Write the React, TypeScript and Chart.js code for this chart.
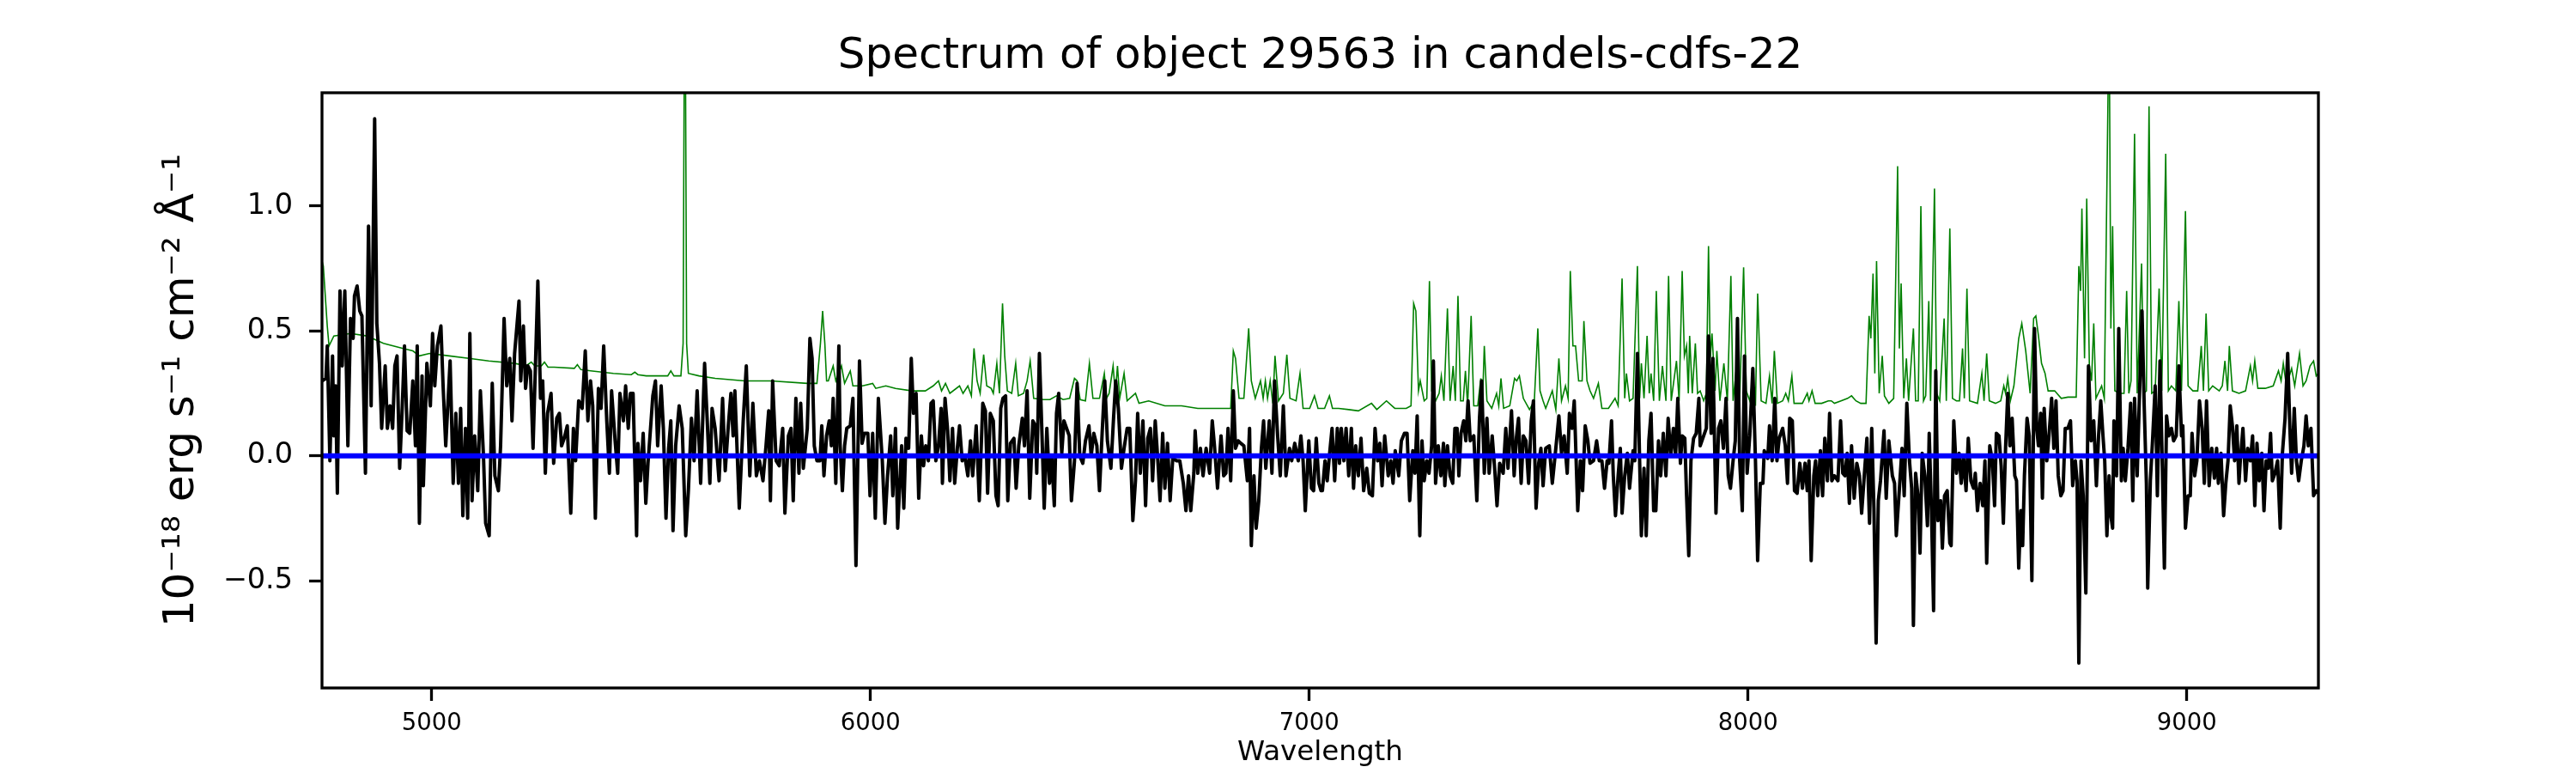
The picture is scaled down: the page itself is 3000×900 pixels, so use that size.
import React, { useEffect, useRef } from "react";
import { Chart, registerables } from "chart.js";

Chart.register(...registerables);

const FONT = "'DejaVu Sans', 'Liberation Sans', sans-serif";

const TITLE = "Spectrum of object 29563 in candels-cdfs-22";
const X_LABEL = "Wavelength";
const Y_LABEL = "10⁻¹⁸ erg s⁻¹ cm⁻² Å⁻¹";

const X_RANGE = [4750, 9300];
const Y_RANGE = [-0.93, 1.454];
const X_TICKS = [5000, 6000, 7000, 8000, 9000];
const Y_TICKS = [-0.5, 0.0, 0.5, 1.0];

// observed flux, [wavelength, flux]
const FLUX: [number, number][] = [
  [4750, 0.30], [4759, 0.31], [4762, 0.44], [4768, -0.02], [4774, 0.40], [4777, 0.08], [4781, 0.28], [4785, -0.15],
  [4791, 0.66], [4796, 0.36], [4802, 0.66], [4809, 0.04], [4815, 0.55], [4821, 0.47], [4824, 0.64], [4830, 0.68],
  [4836, 0.58], [4841, 0.56], [4849, -0.07], [4856, 0.92], [4862, 0.20], [4870, 1.35], [4875, 0.53], [4881, 0.37],
  [4886, 0.11], [4894, 0.36], [4899, 0.11], [4905, 0.20], [4911, 0.11], [4916, 0.36], [4921, 0.40], [4927, -0.05],
  [4933, 0.20], [4938, 0.44], [4944, 0.10], [4950, 0.09], [4957, 0.30], [4963, 0.04], [4967, 0.44], [4972, -0.27],
  [4978, 0.32], [4981, -0.12], [4989, 0.37], [4997, 0.20], [5002, 0.49], [5007, 0.28], [5013, 0.44], [5021, 0.52],
  [5026, 0.28], [5032, 0.04], [5042, 0.38], [5049, -0.11], [5055, 0.17], [5061, -0.11], [5066, 0.19], [5071, -0.24],
  [5077, 0.11], [5082, -0.25], [5087, 0.49], [5092, -0.18], [5098, 0.08], [5105, -0.14], [5111, 0.26], [5118, 0.00],
  [5123, -0.27], [5131, -0.32], [5138, 0.29], [5144, -0.08], [5152, -0.14], [5157, 0.04], [5165, 0.55], [5171, 0.28],
  [5178, 0.39], [5183, 0.14], [5189, 0.41], [5199, 0.62], [5203, 0.30], [5209, 0.52], [5214, 0.27], [5219, 0.36],
  [5225, 0.34], [5231, 0.03], [5242, 0.70], [5248, 0.23], [5253, 0.30], [5259, -0.07], [5264, 0.17], [5272, 0.25],
  [5278, -0.03], [5285, 0.15], [5291, 0.17], [5296, 0.04], [5302, 0.07], [5309, 0.12], [5317, -0.23], [5323, 0.11],
  [5328, -0.02], [5335, 0.22], [5343, 0.19], [5350, 0.42], [5356, 0.14], [5362, 0.30], [5367, 0.20], [5373, -0.25],
  [5380, 0.27], [5386, 0.19], [5392, 0.44], [5399, 0.14], [5405, -0.07], [5410, 0.26], [5418, 0.06], [5424, -0.07],
  [5429, 0.25], [5437, 0.14], [5442, 0.28], [5448, 0.11], [5453, 0.25], [5459, 0.25], [5467, -0.32], [5470, 0.05],
  [5476, -0.10], [5482, 0.09], [5488, -0.19], [5493, -0.03], [5500, 0.14], [5504, 0.24], [5510, 0.30], [5515, 0.04],
  [5523, 0.28], [5528, 0.11], [5534, -0.25], [5540, 0.03], [5545, 0.14], [5550, -0.30], [5556, 0.04], [5564, 0.20],
  [5571, 0.11], [5579, -0.32], [5585, -0.14], [5592, 0.15], [5598, -0.02], [5605, 0.26], [5613, -0.11], [5622, 0.37],
  [5628, 0.14], [5634, -0.11], [5639, 0.19], [5646, 0.11], [5655, -0.10], [5663, 0.23], [5669, -0.06], [5676, 0.12],
  [5682, 0.25], [5687, 0.08], [5691, 0.26], [5701, -0.21], [5710, 0.14], [5717, 0.36], [5725, -0.08], [5732, 0.21],
  [5740, -0.08], [5747, -0.02], [5755, -0.10], [5762, 0.04], [5768, 0.18], [5772, -0.18], [5777, 0.30], [5785, -0.02],
  [5792, -0.04], [5800, 0.11], [5805, -0.23], [5813, 0.08], [5819, 0.11], [5824, -0.18], [5830, 0.23], [5837, -0.07],
  [5841, 0.21], [5847, -0.05], [5856, 0.11], [5862, 0.47], [5867, 0.39], [5872, 0.04], [5878, -0.02],
  [5885, -0.02], [5889, 0.12], [5894, -0.08], [5900, 0.08], [5906, 0.14], [5911, 0.04], [5915, 0.23], [5921, -0.11],
  [5928, 0.44], [5931, 0.04], [5936, -0.14], [5941, 0.04], [5946, 0.11], [5954, 0.12], [5960, 0.23], [5967, -0.44],
  [5975, 0.38], [5981, 0.05], [5986, 0.09], [5994, 0.09], [5999, -0.16], [6005, 0.09], [6011, -0.25], [6018, 0.23],
  [6027, -0.02], [6033, -0.27], [6039, -0.08], [6046, 0.08], [6051, -0.16], [6057, 0.11], [6062, -0.29], [6071, 0.04],
  [6076, -0.21], [6081, 0.07], [6087, 0.03], [6093, 0.39], [6098, 0.17], [6104, 0.25], [6110, -0.17], [6116, 0.08],
  [6121, -0.04], [6126, 0.04], [6132, -0.02], [6138, 0.21], [6143, 0.22], [6149, -0.02], [6155, 0.04], [6161, 0.19],
  [6164, -0.11], [6170, 0.23], [6176, 0.10], [6181, -0.10], [6187, 0.11], [6192, -0.11], [6198, 0.03], [6203, 0.12],
  [6209, -0.02], [6215, 0.00], [6222, -0.08], [6228, 0.06], [6233, -0.08], [6241, 0.12], [6248, -0.18], [6256, 0.21],
  [6262, 0.18], [6267, -0.15], [6273, 0.17], [6280, 0.14], [6286, -0.16], [6291, -0.20], [6297, 0.19], [6302, 0.23],
  [6308, 0.24], [6313, -0.18], [6319, 0.05], [6327, 0.07], [6332, -0.13], [6338, 0.04], [6346, 0.15], [6351, 0.04],
  [6357, 0.26], [6363, -0.17], [6370, 0.14], [6376, 0.12], [6379, -0.07], [6385, 0.41], [6391, 0.08], [6396, -0.21],
  [6402, 0.11], [6408, -0.11], [6413, 0.00], [6419, -0.20], [6424, 0.17], [6429, 0.25], [6436, 0.01], [6441, 0.14],
  [6447, 0.11], [6453, 0.08], [6458, -0.18], [6465, -0.02], [6471, 0.29], [6477, 0.00], [6484, -0.03], [6490, 0.06],
  [6498, 0.12], [6503, 0.00], [6509, 0.09], [6516, 0.04], [6522, -0.14], [6528, 0.09], [6534, 0.30], [6540, 0.06],
  [6548, -0.05], [6554, 0.15], [6559, 0.30], [6565, 0.19], [6572, -0.05], [6578, 0.03], [6585, 0.11], [6591, 0.11],
  [6598, -0.26], [6604, -0.10], [6609, 0.17], [6615, -0.07], [6621, 0.14], [6627, -0.20], [6632, 0.07], [6638, 0.11],
  [6643, -0.10], [6649, 0.14], [6655, -0.02], [6660, -0.18], [6666, 0.09], [6671, -0.13], [6677, 0.05], [6683, -0.18],
  [6689, -0.01], [6698, -0.02], [6705, -0.02], [6713, -0.11], [6719, -0.22], [6725, -0.08], [6730, -0.22], [6737, -0.07],
  [6740, 0.10], [6746, -0.07], [6752, 0.03], [6758, -0.08], [6765, 0.03], [6773, -0.07], [6779, 0.14], [6784, 0.04],
  [6791, -0.13], [6799, 0.08], [6805, -0.08], [6810, -0.07], [6815, 0.11], [6821, -0.10], [6827, 0.26], [6832, 0.03],
  [6838, 0.06], [6844, 0.05], [6851, 0.04], [6859, -0.10], [6864, 0.11], [6868, -0.36], [6874, -0.08], [6879, -0.29],
  [6885, -0.18], [6891, 0.03], [6896, 0.14], [6901, -0.05], [6909, 0.14], [6915, -0.07], [6921, 0.30], [6928, 0.08],
  [6934, -0.08], [6941, 0.20], [6947, -0.08], [6955, 0.03], [6960, -0.02], [6967, 0.05], [6975, -0.02], [6981, 0.08],
  [6986, -0.02], [6991, -0.22], [6999, 0.06], [7005, -0.13], [7010, -0.14], [7016, 0.07], [7022, -0.11], [7027, -0.14],
  [7030, -0.14], [7036, -0.02], [7041, -0.10], [7046, 0.00], [7052, 0.11], [7058, -0.10], [7064, 0.11], [7069, -0.03],
  [7073, 0.11], [7079, -0.02], [7084, 0.11], [7090, -0.08], [7096, 0.11], [7101, -0.13], [7106, 0.04], [7112, -0.08],
  [7118, 0.07], [7124, -0.14], [7131, -0.05], [7137, -0.15], [7144, -0.16], [7150, 0.11], [7156, -0.02], [7161, 0.05],
  [7166, -0.12], [7172, 0.08], [7180, -0.08], [7186, -0.02], [7191, -0.11], [7196, 0.02], [7204, -0.08], [7210, 0.06],
  [7217, 0.09], [7223, 0.09], [7229, -0.18], [7236, 0.02], [7241, -0.07], [7246, 0.16], [7252, -0.32], [7257, 0.06],
  [7262, -0.10], [7268, -0.02], [7273, -0.07], [7279, 0.04], [7283, 0.38], [7288, -0.11], [7294, 0.04], [7300, -0.08],
  [7306, 0.05], [7309, -0.12], [7315, 0.04], [7321, -0.08], [7327, -0.11], [7332, 0.11], [7337, 0.11], [7341, -0.08],
  [7346, 0.09], [7352, 0.14], [7357, 0.06], [7362, 0.22], [7367, 0.06], [7375, 0.08], [7382, -0.18], [7388, 0.15],
  [7393, 0.30], [7399, -0.07], [7405, 0.15], [7410, -0.07], [7417, 0.08], [7423, -0.06], [7428, -0.20], [7434, -0.03],
  [7442, -0.07], [7448, 0.11], [7453, -0.05], [7461, 0.18], [7467, -0.08], [7472, 0.07], [7477, 0.15], [7483, -0.11],
  [7488, 0.08], [7494, 0.06], [7500, -0.11], [7506, 0.14], [7511, 0.22], [7517, -0.21], [7523, -0.03], [7528, 0.03],
  [7533, -0.12], [7539, 0.03], [7547, 0.04], [7554, -0.11], [7562, 0.03], [7569, 0.16], [7575, 0.01], [7581, 0.08],
  [7588, -0.07], [7593, 0.17], [7599, 0.11], [7604, 0.22], [7612, -0.22], [7618, -0.02], [7623, -0.14], [7629, 0.12],
  [7635, 0.06], [7640, -0.03], [7648, -0.02], [7655, 0.06], [7661, -0.02], [7667, -0.02], [7673, -0.13], [7679, -0.02],
  [7683, -0.03], [7689, 0.14], [7693, -0.08], [7698, -0.24], [7704, -0.08], [7709, 0.03], [7713, -0.23], [7719, -0.08],
  [7725, 0.01], [7730, -0.13], [7738, 0.02], [7742, -0.02], [7748, 0.41], [7753, -0.02], [7757, -0.32], [7763, -0.05],
  [7768, -0.32], [7774, 0.06], [7779, 0.17], [7785, -0.22], [7790, -0.22], [7796, 0.06], [7801, -0.08], [7807, 0.09],
  [7813, -0.08], [7818, 0.15], [7824, 0.00], [7830, 0.11], [7835, 0.00], [7840, 0.23], [7846, -0.03], [7850, 0.08],
  [7856, 0.07], [7860, -0.16], [7865, -0.40], [7870, -0.02], [7876, 0.07], [7882, 0.09], [7888, 0.23], [7891, 0.04],
  [7899, 0.08], [7905, 0.11], [7910, 0.48], [7916, 0.09], [7920, 0.39], [7927, -0.23], [7933, 0.11], [7938, 0.14],
  [7944, 0.03], [7950, 0.23], [7955, -0.08], [7960, -0.13], [7966, -0.02], [7971, 0.06], [7976, 0.55], [7981, -0.02],
  [7987, -0.22], [7992, 0.40], [7998, -0.07], [8004, 0.08], [8011, 0.35], [8017, -0.02], [8022, -0.42], [8028, -0.11],
  [8034, -0.11], [8037, 0.02], [8045, -0.01], [8049, 0.12], [8055, -0.02], [8061, 0.23], [8066, -0.02], [8071, 0.07],
  [8079, 0.11], [8085, 0.04], [8090, -0.11], [8095, 0.15], [8101, 0.14], [8106, -0.14], [8112, -0.15], [8118, -0.03],
  [8124, -0.13], [8130, -0.03], [8135, -0.14], [8139, -0.02], [8144, -0.42], [8150, -0.08], [8154, -0.02], [8159, -0.16],
  [8165, 0.02], [8170, -0.16],
  [8175, 0.07], [8181, -0.10], [8186, 0.17], [8191, -0.10], [8197, -0.08], [8205, -0.10], [8211, 0.14], [8216, -0.07],
  [8221, -0.08], [8226, 0.01], [8231, -0.19], [8236, 0.04], [8242, -0.17], [8248, -0.03], [8254, -0.08], [8259, -0.23],
  [8265, -0.08], [8271, 0.07], [8277, -0.27], [8282, 0.11], [8287, -0.21], [8292, -0.75], [8297, -0.18], [8302, -0.10],
  [8310, 0.10], [8315, -0.17], [8321, 0.06], [8329, -0.08], [8334, -0.11], [8338, -0.32], [8344, -0.16], [8351, 0.03],
  [8356, -0.16], [8362, 0.21], [8368, -0.02], [8373, -0.13], [8377, -0.68], [8382, -0.07], [8388, -0.17], [8392, -0.39],
  [8397, 0.01], [8403, -0.08], [8409, -0.28], [8413, 0.09], [8418, -0.21], [8423, -0.62], [8428, 0.34], [8433, -0.26],
  [8439, -0.18], [8443, -0.37], [8448, -0.16], [8454, -0.14], [8460, -0.35], [8463, -0.36], [8469, 0.14], [8475, -0.07],
  [8481, 0.01], [8486, -0.11], [8491, 0.00], [8497, -0.14], [8502, 0.07], [8508, -0.10], [8514, -0.13], [8518, -0.07],
  [8523, -0.22], [8529, -0.11], [8535, -0.20], [8540, -0.02], [8544, -0.43], [8551, 0.04], [8557, -0.02], [8562, -0.20],
  [8566, 0.09], [8572, 0.08], [8577, -0.04], [8582, -0.27], [8587, 0.03], [8592, 0.25], [8597, 0.04], [8602, 0.15],
  [8608, -0.08], [8612, -0.10], [8617, -0.45], [8622, -0.22], [8626, -0.36], [8630, -0.08], [8636, 0.15], [8641, 0.08],
  [8647, -0.50], [8653, 0.51], [8658, 0.11], [8662, 0.04], [8667, 0.17], [8671, -0.17], [8675, 0.19], [8681, -0.02],
  [8686, 0.08], [8692, 0.23], [8697, 0.03], [8702, 0.22], [8707, -0.08], [8713, -0.16], [8718, -0.14], [8723, 0.11],
  [8729, 0.11], [8735, 0.14], [8740, -0.12], [8746, -0.02], [8750, -0.10], [8754, -0.83], [8759, -0.02], [8764, -0.16],
  [8770, -0.55], [8776, 0.36], [8782, 0.06], [8788, 0.14], [8794, -0.12], [8799, 0.08], [8804, 0.22], [8809, 0.08],
  [8813, -0.02], [8818, -0.32], [8823, -0.08], [8827, -0.24], [8831, -0.29], [8834, 0.14], [8840, -0.08], [8845, 0.51],
  [8851, -0.10], [8855, 0.03], [8860, -0.10], [8866, 0.03], [8872, 0.21], [8877, -0.18], [8881, 0.23], [8887, -0.08],
  [8892, 0.23], [8898, 0.58], [8903, 0.20], [8908, -0.11], [8911, -0.53], [8917, -0.10], [8922, 0.06], [8928, 0.28],
  [8933, -0.16], [8939, 0.38], [8944, -0.02], [8949, -0.45], [8954, 0.16], [8959, 0.08], [8965, 0.11], [8970, 0.06],
  [8976, 0.08], [8982, 0.36], [8988, 0.08], [8991, 0.12], [8997, -0.29], [9003, -0.16], [9008, -0.16], [9012, 0.09],
  [9018, -0.08], [9023, -0.02], [9029, 0.22], [9035, 0.11], [9040, -0.11], [9045, 0.22], [9051, -0.12], [9057, 0.03],
  [9063, -0.09], [9068, 0.03], [9072, -0.11], [9078, 0.01], [9084, -0.24], [9089, -0.11], [9094, -0.02], [9099, 0.20],
  [9104, 0.12], [9109, -0.02], [9114, 0.12], [9119, -0.11], [9122, -0.02], [9128, 0.11], [9134, -0.10], [9139, 0.03],
  [9145, -0.02], [9150, 0.08], [9155, -0.20], [9160, 0.05], [9165, -0.10], [9171, 0.01], [9176, -0.22], [9181, -0.02],
  [9186, -0.05], [9191, 0.09], [9195, -0.10], [9201, -0.07], [9207, -0.02], [9213, -0.29], [9218, 0.01], [9224, 0.15],
  [9230, 0.41], [9235, 0.11], [9239, -0.07], [9245, 0.19], [9250, -0.02], [9255, -0.10], [9261, -0.02], [9267, 0.04],
  [9272, 0.16], [9277, 0.04], [9283, 0.11], [9289, -0.16], [9295, -0.14], [9300, -0.15],
];

// noise / sky spectrum, [wavelength, sigma]
const SIGMA: [number, number][] = [
  [4750, 0.78], [4753, 0.76], [4762, 0.52], [4766, 0.44], [4777, 0.48], [4815, 0.49], [4852, 0.48], [4890, 0.45],
  [4935, 0.43], [4957, 0.42], [4972, 0.40], [4995, 0.41], [5040, 0.40], [5085, 0.39], [5130, 0.38], [5190, 0.37],
  [5215, 0.36], [5227, 0.375], [5235, 0.36], [5250, 0.36], [5257, 0.375], [5265, 0.355], [5279, 0.355], [5325, 0.35],
  [5332, 0.365], [5340, 0.345], [5362, 0.34], [5414, 0.33], [5455, 0.325], [5463, 0.335], [5470, 0.325], [5489, 0.32],
  [5538, 0.32], [5545, 0.34], [5552, 0.32], [5568, 0.32], [5573, 0.45], [5577, 2.2], [5581, 0.45], [5585, 0.33],
  [5609, 0.32], [5646, 0.31], [5714, 0.30], [5774, 0.30], [5856, 0.29], [5878, 0.29], [5886, 0.45], [5891, 0.58],
  [5896, 0.45], [5900, 0.30], [5904, 0.30], [5915, 0.36], [5921, 0.30], [5934, 0.36], [5941, 0.29], [5954, 0.34],
  [5960, 0.28], [5982, 0.28], [6005, 0.29], [6012, 0.27], [6035, 0.28], [6057, 0.27], [6095, 0.26], [6125, 0.26],
  [6143, 0.28], [6155, 0.30], [6162, 0.26], [6171, 0.29], [6181, 0.25], [6203, 0.28], [6211, 0.25], [6222, 0.28],
  [6230, 0.24], [6236, 0.43], [6243, 0.30], [6250, 0.25], [6258, 0.405], [6265, 0.28], [6275, 0.27], [6280, 0.25],
  [6288, 0.37], [6294, 0.25], [6301, 0.61], [6306, 0.40], [6312, 0.26], [6322, 0.25], [6331, 0.37], [6337, 0.24],
  [6349, 0.25], [6357, 0.30], [6364, 0.38], [6372, 0.23], [6394, 0.225], [6409, 0.225], [6424, 0.24], [6439, 0.225],
  [6454, 0.23], [6465, 0.31], [6471, 0.30], [6478, 0.225], [6490, 0.22], [6499, 0.37], [6507, 0.23], [6522, 0.23],
  [6533, 0.33], [6538, 0.23], [6544, 0.25], [6553, 0.36], [6558, 0.25], [6563, 0.36], [6568, 0.23], [6578, 0.33],
  [6585, 0.22], [6604, 0.25], [6612, 0.21], [6634, 0.22], [6671, 0.20], [6709, 0.20], [6746, 0.19], [6784, 0.19],
  [6821, 0.19], [6827, 0.42], [6832, 0.39], [6840, 0.23], [6851, 0.23], [6862, 0.51], [6868, 0.30], [6877, 0.23],
  [6889, 0.30], [6895, 0.23], [6900, 0.30], [6905, 0.23], [6911, 0.30], [6917, 0.21], [6922, 0.40], [6930, 0.22],
  [6941, 0.25], [6949, 0.405], [6956, 0.23], [6970, 0.22], [6979, 0.33], [6986, 0.19], [7001, 0.19], [7012, 0.24],
  [7020, 0.19], [7035, 0.19], [7046, 0.24], [7053, 0.19], [7067, 0.19], [7090, 0.185], [7112, 0.18], [7142, 0.21],
  [7154, 0.185], [7176, 0.22], [7195, 0.19], [7221, 0.19], [7232, 0.20], [7238, 0.61], [7243, 0.58], [7249, 0.26],
  [7253, 0.30], [7262, 0.22], [7268, 0.23], [7274, 0.70], [7279, 0.26], [7288, 0.22], [7296, 0.25], [7301, 0.32],
  [7307, 0.22], [7315, 0.59], [7321, 0.22], [7328, 0.36], [7333, 0.22], [7339, 0.64], [7345, 0.22], [7351, 0.22],
  [7356, 0.34], [7361, 0.20], [7369, 0.56], [7375, 0.20], [7384, 0.20], [7391, 0.31], [7395, 0.22], [7399, 0.44],
  [7405, 0.22], [7416, 0.19], [7427, 0.25], [7432, 0.20], [7437, 0.31], [7443, 0.19], [7457, 0.20], [7468, 0.31],
  [7473, 0.30], [7479, 0.32], [7488, 0.23], [7502, 0.185], [7513, 0.22], [7521, 0.51], [7526, 0.26], [7533, 0.22],
  [7539, 0.19], [7554, 0.26], [7562, 0.185], [7569, 0.39], [7575, 0.22], [7584, 0.28], [7590, 0.23], [7595, 0.74],
  [7601, 0.44], [7607, 0.44], [7614, 0.30], [7622, 0.30], [7626, 0.54], [7633, 0.30], [7640, 0.26], [7648, 0.23],
  [7659, 0.29], [7667, 0.19], [7682, 0.19], [7697, 0.23], [7704, 0.20], [7713, 0.71], [7719, 0.23], [7723, 0.33],
  [7730, 0.22], [7738, 0.23], [7748, 0.76], [7753, 0.23], [7757, 0.37], [7763, 0.23], [7770, 0.48], [7775, 0.25],
  [7779, 0.33], [7785, 0.22], [7791, 0.66], [7798, 0.22], [7805, 0.36], [7813, 0.22], [7819, 0.72], [7825, 0.22],
  [7837, 0.38], [7843, 0.22], [7850, 0.74], [7855, 0.40], [7860, 0.44], [7864, 0.25], [7867, 0.48], [7873, 0.25],
  [7880, 0.45], [7885, 0.25], [7891, 0.26], [7899, 0.22], [7905, 0.25], [7910, 0.84], [7914, 0.39], [7918, 0.49],
  [7925, 0.26], [7929, 0.42], [7936, 0.22], [7945, 0.37], [7953, 0.22], [7961, 0.72], [7966, 0.22], [7974, 0.36],
  [7981, 0.22], [7990, 0.755], [7996, 0.26], [8004, 0.22], [8011, 0.31], [8017, 0.20], [8022, 0.65], [8030, 0.22],
  [8041, 0.21], [8049, 0.32], [8055, 0.21], [8060, 0.42], [8067, 0.21], [8079, 0.22], [8086, 0.25], [8092, 0.22],
  [8100, 0.32], [8105, 0.21], [8124, 0.21], [8135, 0.25], [8139, 0.22], [8146, 0.26], [8153, 0.21], [8168, 0.21],
  [8183, 0.22], [8190, 0.22], [8197, 0.21], [8212, 0.22], [8227, 0.23], [8236, 0.24], [8246, 0.22], [8257, 0.21],
  [8269, 0.21], [8276, 0.56], [8280, 0.47], [8285, 0.73], [8289, 0.33], [8293, 0.78], [8299, 0.25], [8306, 0.40],
  [8311, 0.24], [8321, 0.21], [8332, 0.23], [8341, 1.16], [8345, 0.43], [8349, 0.69], [8355, 0.23], [8361, 0.39],
  [8366, 0.22], [8377, 0.51], [8382, 0.22], [8388, 0.22], [8394, 1.00], [8400, 0.22], [8405, 0.24], [8412, 0.62],
  [8416, 0.22], [8425, 1.07], [8430, 0.25], [8437, 0.22], [8447, 0.55], [8452, 0.22], [8460, 0.91], [8466, 0.23],
  [8475, 0.22], [8482, 0.22], [8489, 0.43], [8493, 0.23], [8499, 0.67], [8505, 0.22], [8523, 0.21], [8533, 0.33],
  [8538, 0.22], [8544, 0.41], [8550, 0.22], [8564, 0.21], [8576, 0.22], [8583, 0.28], [8587, 0.25], [8592, 0.31],
  [8598, 0.22], [8606, 0.28], [8617, 0.47], [8624, 0.53], [8633, 0.42], [8643, 0.25], [8651, 0.55], [8656, 0.56],
  [8662, 0.48], [8669, 0.37], [8677, 0.33], [8684, 0.26], [8699, 0.26], [8714, 0.23], [8729, 0.235], [8748, 0.235],
  [8754, 0.76], [8758, 0.66], [8761, 0.99], [8767, 0.39], [8772, 1.03], [8778, 0.36], [8783, 0.30], [8788, 0.53],
  [8793, 0.23], [8806, 0.28], [8812, 0.23], [8823, 1.8], [8827, 0.51], [8831, 0.92], [8836, 0.26], [8848, 0.25],
  [8857, 0.25], [8863, 0.66], [8868, 0.25], [8873, 0.30], [8881, 1.29], [8887, 0.25], [8897, 0.77], [8902, 0.25],
  [8908, 0.26], [8914, 1.40], [8920, 0.25], [8928, 0.26], [8937, 0.67], [8943, 0.26], [8952, 1.21], [8958, 0.26],
  [8965, 0.28], [8975, 0.26], [8982, 0.62], [8988, 0.26], [8997, 0.98], [9003, 0.28], [9014, 0.26], [9025, 0.26],
  [9033, 0.44], [9038, 0.26], [9044, 0.57], [9050, 0.26], [9059, 0.28], [9074, 0.26], [9081, 0.28], [9087, 0.38],
  [9093, 0.26], [9097, 0.44], [9104, 0.26], [9119, 0.25], [9134, 0.26], [9145, 0.36], [9150, 0.30], [9155, 0.38],
  [9162, 0.27], [9179, 0.27], [9197, 0.28], [9209, 0.34], [9215, 0.30], [9220, 0.37], [9227, 0.28], [9239, 0.35],
  [9246, 0.28], [9257, 0.41], [9265, 0.28], [9272, 0.30], [9281, 0.36], [9289, 0.38], [9295, 0.32], [9300, 0.33],
];

// zero level
const ZERO: [number, number][] = [[4750, 0], [9300, 0]];

const toXY = (pts: [number, number][]) => pts.map(([x, y]) => ({ x, y }));

const fmtY = (v: number) => (v < 0 ? "\u2212" : "") + Math.abs(v).toFixed(1);

// matplotlib-like box around the axes
const framePlugin = {
  id: "frame",
  afterDatasetsDraw(chart: any) {
    const { ctx, chartArea } = chart;
    const { left, top, right, bottom } = chartArea;
    ctx.save();
    ctx.strokeStyle = "#000";
    ctx.lineWidth = 3.3;
    ctx.strokeRect(left, top, right - left, bottom - top);
    ctx.restore();
  },
};

const SpectrumChart: React.FC = () => {
  const chartRef = useRef<HTMLCanvasElement | null>(null);
  const chartInstance = useRef<Chart | null>(null);

  useEffect(() => {
    document.body.style.margin = "0";
    if (!chartRef.current) return;
    if (chartInstance.current) chartInstance.current.destroy();

    chartInstance.current = new Chart(chartRef.current, {
      type: "line",
      data: {
        datasets: [
          {
            label: "zero",
            data: toXY(ZERO),
            borderColor: "#0000ff",
            borderWidth: 6,
            pointRadius: 0,
          },
          {
            label: "flux",
            data: toXY(FLUX),
            borderColor: "#000000",
            borderWidth: 4,
            borderJoinStyle: "round",
            pointRadius: 0,
            tension: 0,
          },
          {
            label: "sigma",
            data: toXY(SIGMA),
            borderColor: "#008000",
            borderWidth: 1.6,
            pointRadius: 0,
            tension: 0,
          },
        ],
      },
      options: {
        responsive: false,
        animation: false,
        devicePixelRatio: 1,
        layout: { padding: { left: 0, right: 300, top: 0, bottom: 0 } },
        plugins: {
          legend: { display: false },
          tooltip: { enabled: false },
          title: {
            display: true,
            text: TITLE,
            fullSize: false,
            color: "#000",
            font: { family: FONT, size: 50, weight: "normal" },
            padding: { top: 36, bottom: 12 },
          },
        },
        scales: {
          x: {
            type: "linear",
            min: X_RANGE[0],
            max: X_RANGE[1],
            afterFit: (scale: any) => {
              scale.height = 99;
            },
            afterBuildTicks: (scale: any) => {
              scale.ticks = X_TICKS.map((v) => ({ value: v }));
            },
            grid: {
              drawOnChartArea: false,
              drawTicks: true,
              tickLength: 15,
              tickWidth: 3.3,
              tickColor: "#000",
            },
            border: { display: false },
            ticks: {
              color: "#000",
              font: { family: FONT, size: 27.5 },
              padding: 10.5,
              maxRotation: 0,
              autoSkip: false,
              callback: (v: any) => String(v),
            },
            title: {
              display: true,
              text: X_LABEL,
              color: "#000",
              font: { family: FONT, size: 32.5 },
              padding: { top: 0, bottom: 3.5 },
            },
          },
          y: {
            type: "linear",
            min: Y_RANGE[0],
            max: Y_RANGE[1],
            afterFit: (scale: any) => {
              scale.width = 375;
            },
            afterBuildTicks: (scale: any) => {
              scale.ticks = Y_TICKS.map((v) => ({ value: v }));
            },
            grid: {
              drawOnChartArea: false,
              drawTicks: true,
              tickLength: 15,
              tickWidth: 3.3,
              tickColor: "#000",
            },
            border: { display: false },
            ticks: {
              color: "#000",
              font: { family: FONT, size: 33.5 },
              padding: 19,
              autoSkip: false,
              callback: (v: any) => fmtY(Number(v)),
            },
            title: {
              display: true,
              text: Y_LABEL,
              color: "#000",
              font: { family: FONT, size: 50 },
              padding: { top: 182, bottom: 0 },
            },
          },
        },
      },
      plugins: [framePlugin],
    });

    return () => {
      if (chartInstance.current) {
        chartInstance.current.destroy();
        chartInstance.current = null;
      }
    };
  }, []);

  return (
    <div style={{ position: "relative", width: "3000px", height: "900px", background: "#fff" }}>
      <canvas ref={chartRef} width={3000} height={900} />
    </div>
  );
};

export default function App() {
  return <SpectrumChart />;
}
